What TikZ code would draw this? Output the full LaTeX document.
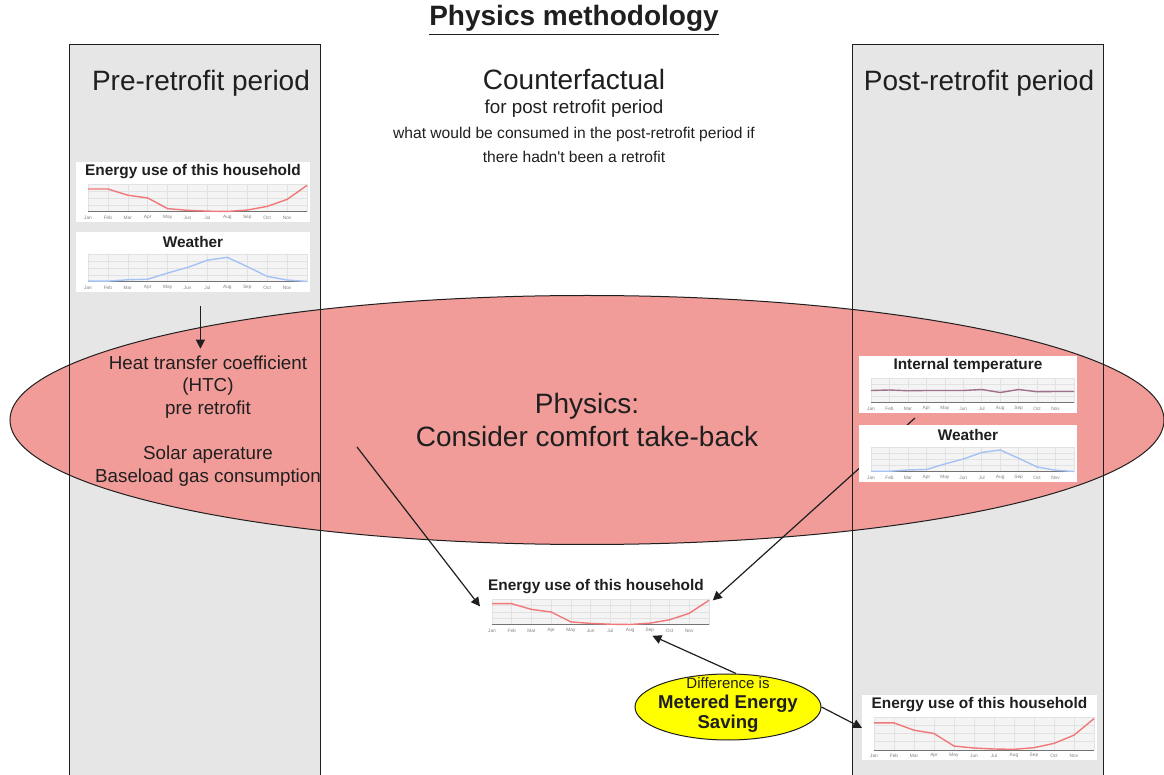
\documentclass[tikz,border=0pt]{standalone}
\usepackage{fontspec}
\setmainfont{Liberation Sans}[Ligatures=TeXOff]
\usetikzlibrary{positioning, arrows.meta, shapes.geometric, calc}
\definecolor{ink}{HTML}{1F1F1F}
\definecolor{colgray}{HTML}{E6E6E6}
\definecolor{rose}{HTML}{F19C99}
\definecolor{lemon}{HTML}{FFFF00}
\definecolor{gridgray}{HTML}{E2E2E2}
\definecolor{energyred}{HTML}{F07878}
\definecolor{weatherblue}{HTML}{A4C2F4}
\definecolor{tempmauve}{HTML}{A0708A}

% small line chart: name, top-left, width, height, title, line colour, values
\newcommand{\minichart}[7]{%
  \node[chartbox, minimum width=#3*0.5pt, minimum height=#4*0.5pt] (#1) at (#2) {};
  \begin{scope}[shift={(#1.north west)}]
    \node[charttitle] (#1-t) at (#3/2,10) {#5};
    \pgfmathsetmacro{\cw}{(#3-15)/11*0.5}
    \pgfmathsetmacro{\chh}{(#4-32)*0.5}
    \begin{scope}[shift={(12,#4-10)}, x=\cw pt, y=\chh pt]
      \fill[gridgray!40] (0,0) rectangle (11,1);
      \foreach \m in {0,...,11} \draw[gridline] (\m,0) -- (\m,1);
      \foreach \k in {0.25,0.5,0.75,1} \draw[gridline] (0,\k) -- (11,\k);
      \draw[axisline] (0,0) -- (11,0);
      \foreach \mon [count=\i from 0] in {Jan,Feb,Mar,Apr,May,Jun,Jul,Aug,Sep,Oct,Nov}
        \node[monthlbl] at (\i,0) {\mon};
      \draw[#6, line width=0.7pt] plot coordinates {#7};
    \end{scope}
  \end{scope}}

\begin{document}
\begin{tikzpicture}[x=0.5pt, y=-0.5pt,
    colline/.style={draw=ink, line width=0.5pt},
    period/.style={font=\fontsize{14}{17}\selectfont, text=ink},
    chartbox/.style={fill=white, inner sep=0pt, anchor=north west},
    charttitle/.style={font=\fontsize{7.7}{9}\selectfont\bfseries, text=ink, inner sep=0pt},
    gridline/.style={gridgray, line width=0.3pt},
    axisline/.style={black!55, line width=0.5pt},
    monthlbl/.style={font=\fontsize{2.4}{3}\selectfont, text=black!50, inner sep=0pt, yshift=-2.8pt},
    bigoval/.style={ellipse, draw=ink, fill=rose, line width=0.5pt, minimum width=577pt,
      minimum height=124.5pt, inner sep=0pt, align=center,
      font=\fontsize{14}{16.5}\selectfont, text=ink},
    savingoval/.style={ellipse, draw=ink, fill=lemon, line width=0.5pt,
      minimum width=93pt, minimum height=33pt, inner sep=0pt},
    flow/.style={-{Triangle[length=4.5pt,width=4.5pt]}, ink, line width=0.6pt}]
  \useasboundingbox (0,0) rectangle (1164,775);

  % ---- title and period columns ----
  \node[font=\fontsize{14}{17}\selectfont\bfseries, text=ink] (title) at (574,20)
        {\underline{Physics methodology}};
  \fill[colgray] (69,45) rectangle (320,780);
  \fill[colgray] (852,45) rectangle (1103,780);
  \node[period] (pre) at (201,83) {Pre-retrofit period};
  \node[period] (post) at (979,83) {Post-retrofit period};

  % ---- counterfactual heading ----
  \node[period] (cf) at (574,79) {Counterfactual};
  \node[font=\fontsize{9.4}{11}\selectfont, text=ink] (cfsub) at (574,109)
        {for post retrofit period};
  \node[font=\fontsize{7.8}{12}\selectfont, text=ink, align=center] (cfnote) at (574,145)
        {what would be consumed in the post-retrofit period if\\there hadn't been a retrofit};

  % ---- pre-retrofit data ----
  \minichart{epre}{76,162}{234}{60}{Energy use of this household}{energyred}
    {(0,0.82) (1,0.82) (2,0.6) (3,0.5) (4,0.12) (5,0.06) (6,0.03) (7,0.02) (8,0.07) (9,0.2) (10,0.45) (11,0.95)}
  \minichart{wpre}{76,232}{234}{60}{Weather}{weatherblue}
    {(0,0.03) (1,0.03) (2,0.08) (3,0.1) (4,0.32) (5,0.52) (6,0.78) (7,0.88) (8,0.55) (9,0.2) (10,0.07) (11,0.02)}

  % ---- physics model ----
  \node[bigoval] (physics) at (587,420) {Physics:\\Consider comfort take-back};
  \draw[colline] (69,45) rectangle (320,780);
  \draw[colline] (852,45) rectangle (1103,780);
  \node[font=\fontsize{9.4}{11.3}\selectfont, text=ink, align=center] (htc) at (208,421)
        {Heat transfer coefficient\\(HTC)\\pre retrofit\\[11.3pt]Solar aperature\\Baseload gas consumption};
  \draw[flow] ([xshift=3.5pt,yshift=-6.5pt]wpre.south) -- ([xshift=3.5pt]wpre.south |- htc.north);

  % ---- counterfactual energy use ----
  \minichart{ecf}{480,577}{232}{58}{Energy use of this household}{energyred}
    {(0,0.82) (1,0.82) (2,0.6) (3,0.5) (4,0.12) (5,0.06) (6,0.03) (7,0.02) (8,0.07) (9,0.2) (10,0.45) (11,0.95)}
  \coordinate (htcout) at (357,447);
  \coordinate (tout) at (915,418);
  \draw[flow] (htcout) -- (ecf.west);
  \draw[flow] (tout) -- ([yshift=3pt]ecf.east);

  % ---- post-retrofit data ----
  \minichart{tpost}{859,356}{218}{57}{Internal temperature}{tempmauve}
    {(0,0.5) (1,0.52) (2,0.49) (3,0.5) (4,0.5) (5,0.5) (6,0.54) (7,0.42) (8,0.54) (9,0.45) (10,0.46) (11,0.46)}
  \minichart{wpost}{859,425}{218}{57}{Weather}{weatherblue}
    {(0,0.03) (1,0.03) (2,0.08) (3,0.1) (4,0.32) (5,0.52) (6,0.78) (7,0.88) (8,0.55) (9,0.2) (10,0.07) (11,0.02)}
  \minichart{epost}{862,695}{235}{65}{Energy use of this household}{energyred}
    {(0,0.82) (1,0.82) (2,0.6) (3,0.5) (4,0.12) (5,0.06) (6,0.03) (7,0.02) (8,0.07) (9,0.2) (10,0.45) (11,0.95)}

  % ---- metered saving ----
  \node[savingoval] (saving) at (728,707) {};
  \node[font=\fontsize{9.3}{10}\selectfont\bfseries, text=ink, align=center] (savingtxt) at (728,705)
        {{\fontsize{7.5}{10}\selectfont\mdseries Difference is}\\Metered Energy\\Saving};
  \draw[flow] ([xshift=4pt]saving.north) -- ([xshift=28pt]ecf.south);
  \draw[flow] (saving.east) -- (epost.west);
\end{tikzpicture}
\end{document}
